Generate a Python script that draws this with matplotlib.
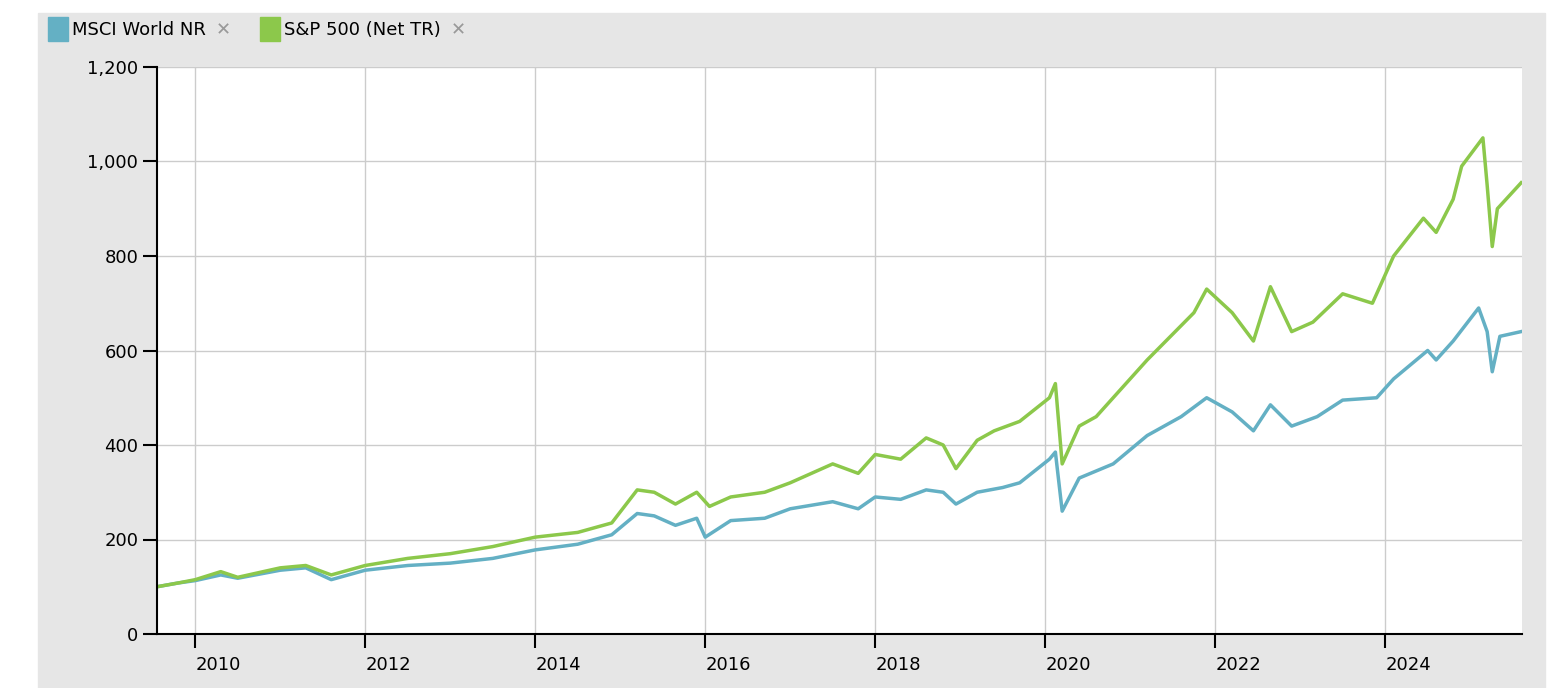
import matplotlib
matplotlib.use("Agg")
import matplotlib.pyplot as plt
from matplotlib.patches import Rectangle

# decimal years and index values
msci_x = [2009.55, 2009.8, 2010.0, 2010.3, 2010.5, 2011.0, 2011.3, 2011.6, 2011.8, 2012.0, 2012.5,
          2013.0, 2013.5, 2014.0, 2014.5, 2014.9, 2015.2, 2015.4, 2015.65, 2015.9, 2016.0, 2016.3,
          2016.7, 2017.0, 2017.5, 2017.8, 2018.0, 2018.3, 2018.6, 2018.8, 2018.95, 2019.2, 2019.5,
          2019.7, 2020.05, 2020.12, 2020.2, 2020.4, 2020.8, 2021.2, 2021.6, 2021.9, 2022.2, 2022.45,
          2022.65, 2022.9, 2023.2, 2023.5, 2023.9, 2024.1, 2024.5, 2024.6, 2024.8, 2025.1, 2025.2,
          2025.26, 2025.35, 2025.6]
msci_y = [100, 108, 113, 125, 118, 135, 140, 115, 125, 135, 145,
          150, 160, 178, 190, 210, 255, 250, 230, 245, 205, 240,
          245, 265, 280, 265, 290, 285, 305, 300, 275, 300, 310,
          320, 370, 385, 260, 330, 360, 420, 460, 500, 470, 430,
          485, 440, 460, 495, 500, 540, 600, 580, 620, 690, 640,
          555, 630, 640]

sp_x = [2009.55, 2009.8, 2010.0, 2010.3, 2010.5, 2011.0, 2011.3, 2011.6, 2011.8, 2012.0, 2012.5,
        2013.0, 2013.5, 2014.0, 2014.5, 2014.9, 2015.2, 2015.4, 2015.65, 2015.9, 2016.05, 2016.3,
        2016.7, 2017.0, 2017.5, 2017.8, 2018.0, 2018.3, 2018.6, 2018.8, 2018.95, 2019.2, 2019.4,
        2019.7, 2020.05, 2020.12, 2020.2, 2020.4, 2020.6, 2021.2, 2021.75, 2021.9, 2022.2, 2022.45,
        2022.65, 2022.9, 2023.15, 2023.5, 2023.85, 2024.1, 2024.45, 2024.6, 2024.8, 2024.9, 2025.15,
        2025.2, 2025.26, 2025.32, 2025.6]
sp_y = [100, 108, 115, 132, 120, 140, 145, 125, 135, 145, 160,
        170, 185, 205, 215, 235, 305, 300, 275, 300, 270, 290,
        300, 320, 360, 340, 380, 370, 415, 400, 350, 410, 430,
        450, 500, 530, 360, 440, 460, 580, 680, 730, 680, 620,
        735, 640, 660, 720, 700, 800, 880, 850, 920, 990, 1050,
        950, 820, 900, 955]

year_ticks = [2010, 2012, 2014, 2016, 2018, 2020, 2022, 2024]
y_ticks = [0, 200, 400, 600, 800, 1000, 1200]

W, H = 1564, 688
fig = plt.figure(figsize=(W / 100, H / 100), dpi=100)
bg = Rectangle((38 / W, 0), (1545 - 38) / W, (H - 13) / H,
               transform=fig.transFigure, color="#e6e6e6", zorder=-10)
fig.add_artist(bg)

ax = fig.add_axes([157 / W, (H - 634) / H, 1365 / W, 567 / H])
ax.set_facecolor("white")
ax.plot(msci_x, msci_y, color="#64b0c4", lw=2.5)
ax.plot(sp_x, sp_y, color="#8cc84b", lw=2.5)

ax.set_xlim(2009.55, 2025.61)
ax.set_ylim(0, 1200)
ax.set_xticks(year_ticks)
ax.set_xticklabels([str(y) for y in year_ticks], ha="left")
ax.set_yticks(y_ticks)
ax.set_yticklabels([f"{v:,}" for v in y_ticks])
ax.grid(True, color="#cccccc", lw=1)
ax.set_axisbelow(True)
for s in ["top", "right"]:
    ax.spines[s].set_visible(False)
for s in ["left", "bottom"]:
    ax.spines[s].set_linewidth(1.5)
ax.tick_params(axis="both", length=10, width=1.5, labelsize=13)
ax.tick_params(axis="x", pad=6)

# legend drawn by hand like the original toolbar
legend = [("MSCI World NR", "#64b0c4", 48), ("S&P 500 (Net TR)", "#8cc84b", 260)]
for label, col, x0 in legend:
    fig.add_artist(Rectangle((x0 / W, (H - 41) / H), 20 / W, 24 / H,
                             transform=fig.transFigure, color=col))
    fig.text((x0 + 24) / W, (H - 30) / H, label, fontsize=13, va="center")
fig.text(223 / W, (H - 30) / H, "\u2715", fontsize=13, va="center", ha="center", color="#999999")
fig.text(458 / W, (H - 30) / H, "\u2715", fontsize=13, va="center", ha="center", color="#999999")

fig.savefig("out.png", dpi=100)
